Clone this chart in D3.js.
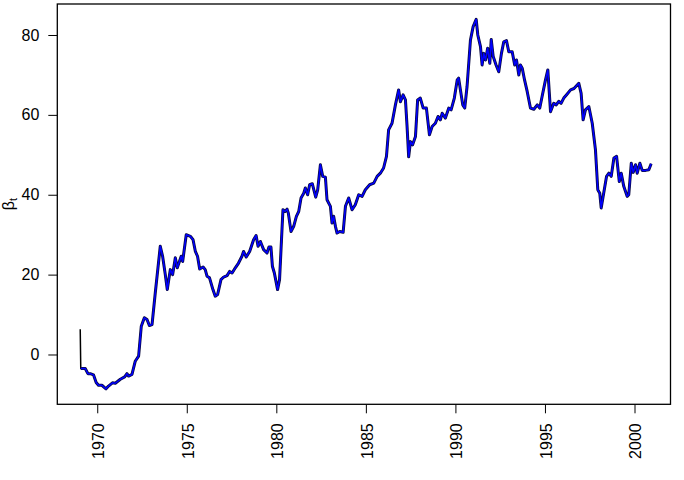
<!DOCTYPE html>
<html>
<head>
<meta charset="utf-8">
<script src="https://cdn.jsdelivr.net/npm/d3@7"></script>
<style>
  body { margin: 0; background: #fff; }
  svg { display: block; font-family: "Liberation Sans", Arial, sans-serif; }
</style>
</head>
<body>
<svg id="chart"></svg>
<script>
/* CONSTANTS AND GLOBALS */
const width = 684,
  height = 480,
  margin = { top: 4, bottom: 75.7, left: 57.3, right: 13.5 };

/// DATA (decimal years, beta_t)
// first filtered value only, rest is shared with the smoothed line
const startYear = 1969.05;
const startBeta = 6.3;

const years = [
  1969.08, 1969.33, 1969.48, 1969.61, 1969.79, 1969.94, 1970.07, 1970.26, 1970.49, 1970.63,
  1970.85, 1971.01, 1971.29, 1971.53, 1971.66, 1971.75, 1971.94, 1972.12, 1972.31, 1972.46,
  1972.63, 1972.78, 1972.91, 1973.06, 1973.24, 1973.52, 1973.65, 1973.80, 1973.91, 1974.08,
  1974.21, 1974.36, 1974.47, 1974.69, 1974.77, 1974.97, 1975.20, 1975.35, 1975.48, 1975.60,
  1975.72, 1975.91, 1976.03, 1976.13, 1976.27, 1976.46, 1976.59, 1976.72, 1976.91, 1977.06,
  1977.25, 1977.39, 1977.53, 1977.71, 1977.89, 1978.08, 1978.17, 1978.32, 1978.51, 1978.73,
  1978.87, 1978.98, 1979.11, 1979.29, 1979.48, 1979.59, 1979.70, 1979.78, 1979.89, 1980.07,
  1980.18, 1980.37, 1980.49, 1980.60, 1980.67, 1980.82, 1980.97, 1981.12, 1981.25, 1981.38,
  1981.53, 1981.62, 1981.75, 1981.86, 1982.01, 1982.20, 1982.31, 1982.46, 1982.59, 1982.74,
  1982.83, 1983.02, 1983.11, 1983.20, 1983.30, 1983.39, 1983.54, 1983.73, 1983.86, 1984.04,
  1984.23, 1984.41, 1984.60, 1984.79, 1984.97, 1985.21, 1985.44, 1985.63, 1985.81, 1985.99,
  1986.15, 1986.27, 1986.46, 1986.65, 1986.83, 1986.93, 1987.08, 1987.21, 1987.30, 1987.39,
  1987.49, 1987.61, 1987.77, 1987.89, 1988.04, 1988.20, 1988.38, 1988.55, 1988.70, 1988.88,
  1989.03, 1989.16, 1989.26, 1989.44, 1989.63, 1989.76, 1989.94, 1990.10, 1990.18, 1990.28,
  1990.41, 1990.52, 1990.65, 1990.84, 1990.99, 1991.16, 1991.25, 1991.40, 1991.49, 1991.58,
  1991.68, 1991.80, 1991.92, 1992.00, 1992.11, 1992.27, 1992.42, 1992.57, 1992.70, 1992.85,
  1992.98, 1993.17, 1993.31, 1993.41, 1993.54, 1993.63, 1993.73, 1993.86, 1994.01, 1994.19,
  1994.38, 1994.57, 1994.71, 1994.84, 1995.03, 1995.16, 1995.31, 1995.49, 1995.63, 1995.77,
  1995.90, 1996.05, 1996.22, 1996.43, 1996.62, 1996.89, 1997.02, 1997.13, 1997.26, 1997.45,
  1997.64, 1997.82, 1997.95, 1998.06, 1998.14, 1998.25, 1998.44, 1998.57, 1998.70, 1998.85,
  1999.00, 1999.15, 1999.26, 1999.40, 1999.59, 1999.68, 1999.82, 1999.93, 2000.06, 2000.15,
  2000.30, 2000.43, 2000.62, 2000.80, 2000.93
];

const beta = [
  -3.5, -3.5, -4.8, -4.8, -5.1, -7, -7.7, -7.7, -8.6, -7.9,
  -7.1, -7.2, -6.2, -5.6, -4.8, -5.4, -5, -1.7, -0.4, 7.1,
  9.2, 8.75, 7.25, 7.5, 15.4, 27.1, 24.6, 20, 16.25, 21.25,
  20, 24.2, 21.7, 24.6, 23.3, 30, 29.6, 28.75, 25.8, 24.6,
  21.4, 21.9, 21.25, 19.6, 19.2, 16.25, 14.6, 15, 18.75, 19.4,
  19.75, 20.8, 20.4, 21.7, 22.9, 24.6, 25.8, 24.4, 25.8, 28.75,
  29.8, 27.1, 28.3, 26.25, 25.4, 26.9, 26.9, 22.1, 20.4, 16.25,
  18.75, 36.25, 35.8, 36.4, 35.4, 30.8, 32.1, 34.6, 35.8, 39.2,
  40.4, 41.7, 40, 42.5, 42.75, 39.4, 41.25, 47.5, 44.6, 44.4,
  38.75, 37.1, 32.9, 34.6, 32.1, 30.4, 30.8, 30.6, 37.1, 39.2,
  36.25, 37.5, 40, 39.6, 41.25, 42.5, 42.9, 44.6, 45.4, 46.7,
  49.6, 56.25, 57.9, 62.5, 66.25, 63.3, 65, 63.75, 57.1, 49.5,
  53.3, 52.5, 54.6, 63.75, 64.2, 61.7, 61.7, 55, 57.1, 57.9,
  59.6, 58.75, 60.4, 59.2, 61.7, 61.25, 64.2, 68.75, 69.2, 66.25,
  62.5, 61.7, 67.1, 78.75, 82.1, 83.9, 80, 77.1, 72.5, 75.4,
  73.75, 76.7, 72.9, 78.9, 74.6, 72.5, 70.8, 75.4, 78.3, 78.6,
  75.8, 75.8, 72.5, 73.75, 70, 72.5, 71.7, 68.75, 65.8, 61.7,
  61.4, 62.5, 61.7, 64.6, 68.75, 71.25, 60.8, 62.9, 62.5, 63.4,
  62.9, 64.2, 65.1, 66.25, 66.6, 67.9, 65.4, 58.75, 61.25, 62.1,
  57.9, 51.25, 41.25, 40.4, 36.7, 39.6, 44.6, 45.4, 44.6, 49.2,
  49.6, 43.3, 45.4, 42.1, 39.6, 40, 47.9, 45.6, 47.5, 45.4,
  47.9, 46.1, 46.1, 46.25, 47.75
];

const xTicks = [1970, 1975, 1980, 1985, 1990, 1995, 2000];
const yTicks = [0, 20, 40, 60, 80];

// build the two series (black = filtered, blue = smoothed)
const smoothed = years.map((yr, i) => ({ t: yr, v: beta[i] }));
const filtered = [{ t: startYear, v: startBeta }].concat(smoothed);

/////////////
/// SETUP ///
/////////////

const svg = d3.select("#chart")
  .attr("width", width)
  .attr("height", height);

const xScale = d3.scaleLinear()
  .domain([1967.77, 2002.01])
  .range([margin.left, width - margin.right]);

const yScale = d3.scaleLinear()
  .domain([-12.47, 87.76])
  .range([height - margin.bottom, margin.top]);

//////////////
/// AXES  ///
//////////////

const yAxis = d3.axisLeft(yScale)
  .tickValues(yTicks)
  .tickSize(9)
  .tickPadding(9);

svg.append("g")
  .attr("transform", `translate(${margin.left},0)`)
  .call(yAxis)
  .call(g => g.select(".domain").remove())
  .call(g => g.selectAll("text")
    .attr("font-size", 16)
    .attr("font-family", "Liberation Sans, Arial, sans-serif")
    .attr("fill", "#000"));

const xAxis = d3.axisBottom(xScale)
  .tickValues(xTicks)
  .tickFormat(d3.format("d"))
  .tickSize(9);

svg.append("g")
  .attr("transform", `translate(0,${height - margin.bottom})`)
  .call(xAxis)
  .call(g => g.select(".domain").remove())
  .call(g => g.selectAll("text")
    .attr("font-size", 16)
    .attr("font-family", "Liberation Sans, Arial, sans-serif")
    .attr("fill", "#000")
    .attr("text-anchor", "end")
    .attr("transform", "rotate(-90)")
    .attr("x", -19)
    .attr("y", 0)
    .attr("dy", "0.4em"));

// y label: beta with subscript t
svg.append("text")
  .attr("transform", `translate(14,${(margin.top + height - margin.bottom) / 2}) rotate(-90)`)
  .attr("text-anchor", "middle")
  .attr("font-size", 16)
  .attr("fill", "#000")
  .text("β")
  .append("tspan")
  .attr("font-size", 11)
  .attr("dy", 3)
  .text("t");

/////////////
/// LINES ///
/////////////

const line = d3.line()
  .x(d => xScale(d.t))
  .y(d => yScale(d.v));

// filtered: thin black
svg.append("path")
  .datum(filtered)
  .attr("d", line)
  .attr("fill", "none")
  .attr("stroke", "#000")
  .attr("stroke-width", 1.5)
  .attr("stroke-linejoin", "round");

// smoothed: blue with a dark edge
svg.append("path")
  .datum(smoothed)
  .attr("d", line)
  .attr("fill", "none")
  .attr("stroke", "#0a0a40")
  .attr("stroke-width", 3)
  .attr("stroke-linejoin", "round");

svg.append("path")
  .datum(smoothed)
  .attr("d", line)
  .attr("fill", "none")
  .attr("stroke", "#0000ff")
  .attr("stroke-width", 1.5)
  .attr("stroke-linejoin", "round");

// box round the plot
svg.append("rect")
  .attr("x", margin.left)
  .attr("y", margin.top)
  .attr("width", width - margin.right - margin.left)
  .attr("height", height - margin.bottom - margin.top)
  .attr("fill", "none")
  .attr("stroke", "#000")
  .attr("stroke-width", 1.3);
</script>
</body>
</html>
